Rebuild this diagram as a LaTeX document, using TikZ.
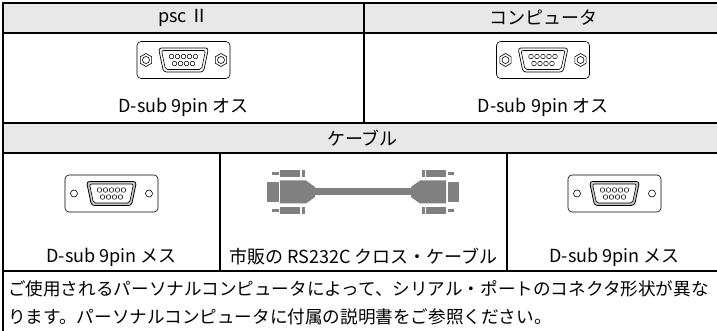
\documentclass[tikz,border=0pt]{standalone}
\usepackage{fontspec}
\setmainfont{Noto Sans CJK JP}
\usepackage{tikz}
\usepackage{xcolor}

\definecolor{hdrgray}{RGB}{232,232,232}
\definecolor{plugray}{RGB}{128,128,128}

\tikzset{
  % D-sub plate (shared by both genders)
  dsubplate/.pic={
    \draw[line width=0.6pt, rounded corners=4pt, fill=white] (-46.5,-18.5) rectangle (46.5,18.5);
  },
  % male connector: hex nuts, white shell
  dsubmale/.pic={
    \pic {dsubplate};
    \foreach \s in {-1,1}{
      \draw[line width=0.6pt] (\s*37.5,0) +(30:6.5pt) -- +(90:6.5pt) -- +(150:6.5pt)
        -- +(210:6.5pt) -- +(270:6.5pt) -- +(330:6.5pt) -- cycle;
      \draw[line width=0.6pt] (\s*37.5,0) circle (3.5pt);
    }
    \draw[line width=0.7pt, rounded corners=3pt] (-25,12) -- (25,12) -- (20,-12) -- (-20,-12) -- cycle;
    \draw[line width=0.6pt, rounded corners=2pt] (-22,9.5) -- (22,9.5) -- (18,-9.5) -- (-18,-9.5) -- cycle;
    \foreach \i in {-2,...,2} \draw[line width=0.5pt] (\i*6,3.5) circle (2.3pt);
    \foreach \i in {-1.5,-0.5,0.5,1.5} \draw[line width=0.5pt] (\i*6,-3.5) circle (2.3pt);
  },
  % female connector: plain holes, grey shell
  dsubfemale/.pic={
    \pic {dsubplate};
    \foreach \s in {-1,1}
      \draw[line width=0.6pt] (\s*37.5,0) circle (3.5pt);
    \filldraw[fill=gray!45, line width=0.8pt, rounded corners=3pt] (-25,12) -- (25,12) -- (20,-12) -- (-20,-12) -- cycle;
    \filldraw[fill=white, line width=0.6pt, rounded corners=2pt] (-22,9.5) -- (22,9.5) -- (18,-9.5) -- (-18,-9.5) -- cycle;
    \foreach \i in {-2,...,2} \draw[line width=0.5pt] (\i*6,3.5) circle (2.3pt);
    \foreach \i in {-1.5,-0.5,0.5,1.5} \draw[line width=0.5pt] (\i*6,-3.5) circle (2.3pt);
  },
  % cross cable with a plug on each end
  rscable/.pic={
    \fill[plugray] (-48,-3.5) rectangle (48,3.5);
    \foreach \m in {-1,1}{
      \begin{scope}[xscale=\m]
        \fill[plugray] (-96,-10) rectangle (-84.5,10);
        \fill[plugray] (-83,11.5) -- (-57,11.5) -- (-48,5) -- (-48,-5) -- (-57,-11.5) -- (-83,-11.5) -- cycle;
        \foreach \s in {-1,1}{
          \fill[plugray] (-83,\s*15) rectangle (-63,\s*21.5);
          \fill[plugray] (-91,\s*16.5) rectangle (-84.5,\s*19.5);
          \fill[plugray] (-61.5,\s*15) rectangle (-58.5,\s*21.5);
        }
      \end{scope}
    }
  },
}

\begin{document}
\begin{tikzpicture}[
  x=1pt, y=1pt,
  txt/.style={font=\fontsize{18}{21}\selectfont, inner sep=0pt},
  rule/.style={line width=2pt, line cap=rect}
]
\useasboundingbox[fill=white] (0,0) rectangle (717,-331);
\clip (0,0) rectangle (717,-331);

% Header bands
\fill[hdrgray] (3,-3) rectangle (722,-33);
\fill[hdrgray] (3,-123) rectangle (722,-153);

% Table rules
\draw[rule] (722,-3) -- (3,-3) -- (3,-340);
\foreach \y in {33,123,153,271}
  \draw[rule] (3,-\y) -- (722,-\y);
\draw[rule] (364,-3) -- (364,-123);
\draw[rule] (220,-153) -- (220,-271);
\draw[rule] (507,-153) -- (507,-271);

% Headers
\node[txt] (hdrpsc) at (183.5,-18) {psc Ⅱ};
\node[txt] (hdrpc) at (543,-18) {コンピュータ};
\node[txt] (hdrcable) at (362.5,-138) {ケーブル};

% Connectors
\pic at (183.5,-60) {dsubmale};
\pic at (543,-60) {dsubmale};
\pic at (111.5,-193.5) {dsubfemale};
\pic at (363,-192) {rscable};
\pic at (614.5,-193.5) {dsubfemale};

% Labels
\node[txt] (lblpsc) at (183.5,-107) {D-sub 9pin オス};
\node[txt] (lblpc) at (543,-107) {D-sub 9pin オス};
\node[txt] (lblfeml) at (111.5,-257) {D-sub 9pin メス};
\node[txt] (lblcable) at (363.5,-257) {市販の RS232C クロス・ケーブル};
\node[txt] (lblfemr) at (614.5,-257) {D-sub 9pin メス};

% Note
\node[txt, anchor=north west, align=left, font=\fontsize{17.6}{28}\selectfont] (note) at (8,-280.5)
  {ご使用されるパーソナルコンピュータによって、シリアル・ポートのコネクタ形状が異な\\
   ります。パーソナルコンピュータに付属の説明書をご参照ください。};
\end{tikzpicture}
\end{document}
